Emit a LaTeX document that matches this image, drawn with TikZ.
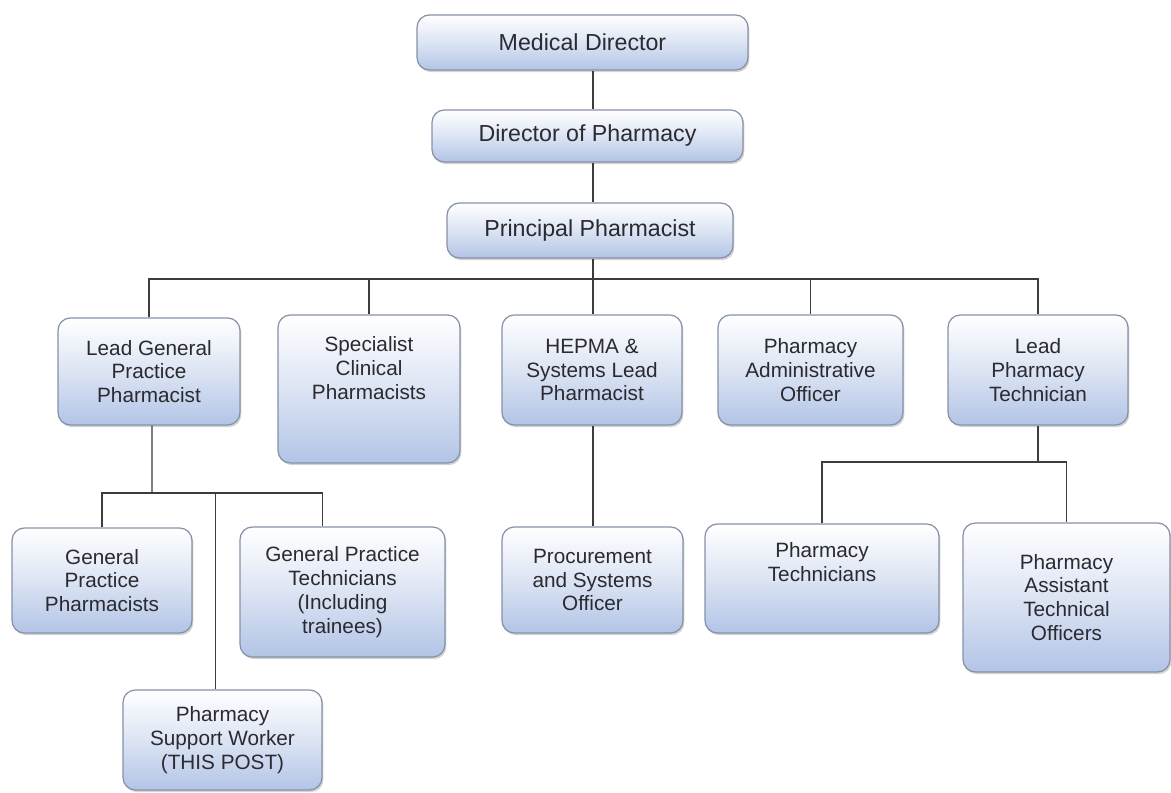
\documentclass[tikz,border=0pt]{standalone}
\usepackage{fontspec}
\setmainfont{Liberation Sans}
\usepackage{tikz}
\usetikzlibrary{shadows}

\definecolor{boxblue}{RGB}{178,196,230}
\definecolor{boxline}{RGB}{135,145,168}
\definecolor{txtgray}{RGB}{42,42,48}
\definecolor{linkgray}{RGB}{60,60,60}

\tikzset{
    box/.style = {rounded corners=7pt, draw=boxline, line width=0.7pt,
                  top color=white, bottom color=boxblue, middle color=white!55!boxblue,
                  drop shadow={shadow xshift=0.8pt, shadow yshift=-1.2pt, opacity=0.35},
                  align=center, text=txtgray, inner sep=2pt,
                  font=\fontsize{11.8}{13.6}\selectfont},
    big/.style  = {box, font=\fontsize{13.2}{15}\selectfont},
    txt/.style  = {align=center, text=txtgray, font=\fontsize{11.8}{13.6}\selectfont},
    link/.style = {draw=linkgray, line width=0.8pt}
}

\begin{document}
\begin{tikzpicture}[x=0.02cm, y=-0.02cm]
            \useasboundingbox (0,0) rectangle (1171,793);
            % top
            \node [big, minimum width=6.62cm, minimum height=1.10cm] (md) at (582.5,42.5) {Medical Director};
            \node [big, minimum width=6.22cm, minimum height=1.04cm] (dp) at (587.5,136) {Director of Pharmacy};
            \node [big, minimum width=5.72cm, minimum height=1.10cm] (pp) at (590,230.5) {Principal Pharmacist};
            \coordinate (trunk) at (593,279);
            % second row
            \node [box, minimum width=3.64cm, minimum height=2.14cm] (lgp) at (149,371.5) {Lead General\\Practice\\Pharmacist};
            \node [box, minimum width=3.64cm, minimum height=2.96cm] (scp) at (369,389) {};
            \node [txt] (scp-txt) at (369,368) {Specialist\\Clinical\\Pharmacists};
            \node [box, minimum width=3.60cm, minimum height=2.20cm] (hepma) at (592,370) {HEPMA \&\\Systems Lead\\Pharmacist};
            \node [box, minimum width=3.70cm, minimum height=2.20cm] (pao) at (810.5,370) {Pharmacy\\Administrative\\Officer};
            \node [box, minimum width=3.60cm, minimum height=2.20cm] (lpt) at (1038,370) {Lead\\Pharmacy\\Technician};
            % third row
            \node [box, minimum width=3.60cm, minimum height=2.10cm] (gpp) at (102,580.5) {General\\Practice\\Pharmacists};
            \node [box, minimum width=4.10cm, minimum height=2.60cm] (gpt) at (342.5,592) {General Practice\\Technicians\\(Including\\trainees)};
            \node [box, minimum width=3.98cm, minimum height=2.00cm] (psw) at (222.5,740) {Pharmacy\\Support Worker\\(THIS POST)};
            \node [box, minimum width=3.62cm, minimum height=2.12cm] (proc) at (592.5,580) {Procurement\\and Systems\\Officer};
            \node [box, minimum width=4.68cm, minimum height=2.18cm] (ptech) at (822,578.5) {};
            \node [txt] (ptech-txt) at (822,562) {Pharmacy\\Technicians};
            \node [box, minimum width=4.14cm, minimum height=2.98cm] (pato) at (1066.5,597.5) {Pharmacy\\Assistant\\Technical\\Officers};
            \coordinate (gpbus) at (152,493);
            \coordinate (ptbus) at (1038,462);
            % lines
            \draw [link] (md.south -| trunk) -- (dp.north -| trunk);
            \draw [link] (dp.south -| trunk) -- (pp.north -| trunk);
            \draw [link] (pp.south -| trunk) -- (trunk);
            \draw [link] (lgp.north) -- (lgp.north |- trunk) -- (lpt.north |- trunk) -- (lpt.north);
            \draw [link] (scp.north |- trunk) -- (scp.north);
            \draw [link] (trunk) -- (trunk |- hepma.north);
            \draw [link] (pao.north |- trunk) -- (pao.north);
            \draw [link] (hepma.south -| trunk) -- (proc.north -| trunk);
            \draw [link] ([xshift=0.06cm]lgp.south) -- (gpbus);
            \draw [link] (gpp.north) -- (gpp.north |- gpbus) -- ([xshift=-0.4cm]gpt.north |- gpbus) -- ([xshift=-0.4cm]gpt.north);
            \draw [link] ([xshift=-0.14cm]psw.north |- gpbus) -- ([xshift=-0.14cm]psw.north);
            \draw [link] (lpt.south) -- (ptbus);
            \draw [link] (ptech.north) -- (ptech.north |- ptbus) -- (pato.north |- ptbus) -- (pato.north);
        \end{tikzpicture}
\end{document}
